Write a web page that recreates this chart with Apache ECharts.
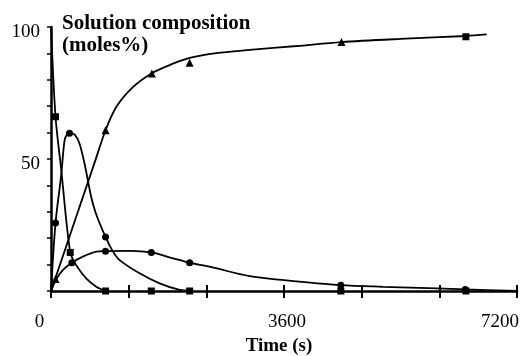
<!DOCTYPE html>
<html>
<head>
<meta charset="utf-8">
<script src="https://cdn.jsdelivr.net/npm/echarts@6/dist/echarts.min.js"></script>
<style>
  html, body { margin: 0; padding: 0; background: #fff; }
  #chart { width: 524px; height: 356px; }
</style>
</head>
<body>
<div id="chart"></div>
<script>
// Solution composition (moles %) against time (s)

// Tick labels
const xTickLabels = [0, 3600, 7200];
const yTickLabels = [50, 100];

// Fitted curves: [time, moles %]
const reactantCurve = [[0, 100], [70, 66], [158, 46], [297, 14.6], [390, 9.8], [544, 4.8], [699, 1.6], [800, 0.4], [843, 0]];
const intermediateCurve = [[0, 0], [70, 25.8], [158, 44], [209, 57], [250, 59.5], [286, 59.8], [363, 59.3], [441, 55.8], [518, 48.3],
  [569, 42], [622, 35.5], [699, 29], [843, 20.5], [956, 15], [1060, 11.7], [1369, 6.7], [1678, 2.9], [1988, 0.4], [2142, 0]];
const productCurve = [[0, 0], [70, 5], [280, 20.2], [483, 34.9], [680, 49.1], [843, 60.9], [1008, 69.7], [1265, 77.2], [1559, 82.5],
  [1884, 86.1], [2142, 88.3], [2555, 90.1], [3070, 91.3], [3800, 92.8], [4488, 94.3], [5400, 95.5], [6412, 96.6], [6731, 97.2]];
const byproductCurve = [[0, 0], [70, 4], [182, 7.9], [322, 10.7], [492, 13], [699, 14.9], [843, 15.1], [1214, 15.2], [1550, 14.6],
  [1884, 12.4], [2142, 10.7], [2452, 9.2], [3070, 5.6], [3600, 4.1], [4480, 2.2], [5130, 1.6], [5960, 1.0], [6400, 0.6], [7200, 0]];

// Measured points: [time, moles %]
const reactantPoints = [[70, 66], [297, 14.6], [843, 0], [1550, 0], [2142, 0], [4478, 0], [6410, 0]];
const intermediatePoints = [[70, 25.8], [286, 59.8], [843, 20.5]];
const productPoints = [[70, 4.5], [843, 60.9], [1559, 82.4], [2142, 86.5], [4488, 94.3]];
const productLastPoint = [[6410, 96.3]];
const byproductPoints = [[322, 10.7], [843, 15.1], [1550, 14.6], [2142, 10.7], [4478, 2.2], [6400, 0.6]];

const FONT = 'Liberation Serif';
const INK = '#000';

function curve(data) {
  return {
    type: 'line', data, smooth: 0.3, showSymbol: false, symbol: 'none',
    lineStyle: { color: INK, width: 1.8 }, z: 3, silent: true
  };
}
function marks(data, symbol, size) {
  return {
    type: 'scatter', data, symbol, symbolSize: size,
    itemStyle: { color: INK, opacity: 1 }, z: 4, silent: true
  };
}

const chart = echarts.init(document.getElementById('chart'), null, { renderer: 'canvas' });
chart.setOption({
  animation: false,
  backgroundColor: '#fff',
  title: {
    text: 'Solution composition\n(moles%)',
    left: 62, top: 13, padding: 0,
    textStyle: { fontFamily: FONT, fontWeight: 'bold', fontSize: 21, lineHeight: 22, color: INK }
  },
  grid: { left: 51, right: 7, top: 27, bottom: 65, outerBoundsMode: 'none', containLabel: false },
  xAxis: [
    {
      type: 'value', min: 0, max: 7200, interval: 1200, position: 'bottom',
      name: 'Time (s)', nameLocation: 'middle', nameGap: 30,
      nameTextStyle: { fontFamily: FONT, fontWeight: 'bold', fontSize: 19, color: INK, padding: [0, 10, 0, 0] },
      axisLine: { lineStyle: { color: INK, width: 2.5 } },
      axisTick: { show: true, inside: false, length: 7, lineStyle: { color: INK, width: 2 } },
      splitLine: { show: false },
      axisLabel: {
        interval: 0, margin: 22, fontFamily: FONT, fontSize: 19, color: INK,
        formatter: v => {
          if (!xTickLabels.includes(v)) return '';
          if (v === 0) return '{a|' + v + '}';
          if (v === 7200) return '{c|' + v + '}';
          return '{b|' + v + '}';
        },
        rich: {
          a: { fontFamily: FONT, fontSize: 19, color: INK, padding: [0, 23, 0, 0] },
          b: { fontFamily: FONT, fontSize: 19, color: INK, padding: [0, 0, 0, 6] },
          c: { fontFamily: FONT, fontSize: 19, color: INK, padding: [0, 34, 0, 0] }
        }
      }
    },
    {
      type: 'value', min: 0, max: 7200, interval: 1200, position: 'bottom',
      axisLine: { show: false },
      axisTick: { show: true, inside: true, length: 6, lineStyle: { color: INK, width: 2 } },
      axisLabel: { show: false },
      splitLine: { show: false }
    }
  ],
  yAxis: {
    type: 'value', min: 0, max: 100, interval: 10,
    axisLine: { show: true, lineStyle: { color: INK, width: 2.5 } },
    axisTick: { show: true, inside: false, length: 4, lineStyle: { color: INK, width: 1.5 } },
    splitLine: { show: false },
    axisLabel: {
      margin: 11, fontFamily: FONT, fontSize: 19, color: INK, verticalAlign: 'top', lineHeight: 10,
      formatter: v => (yTickLabels.includes(v) ? String(v) : '')
    }
  },
  series: [
    curve(reactantCurve),
    curve(intermediateCurve),
    curve(productCurve),
    curve(byproductCurve),
    marks(reactantPoints, 'rect', 7),
    marks(intermediatePoints, 'circle', 7),
    marks(productPoints, 'triangle', 8),
    marks(productLastPoint, 'rect', 7),
    marks(byproductPoints, 'circle', 7)
  ]
});
</script>
</body>
</html>
